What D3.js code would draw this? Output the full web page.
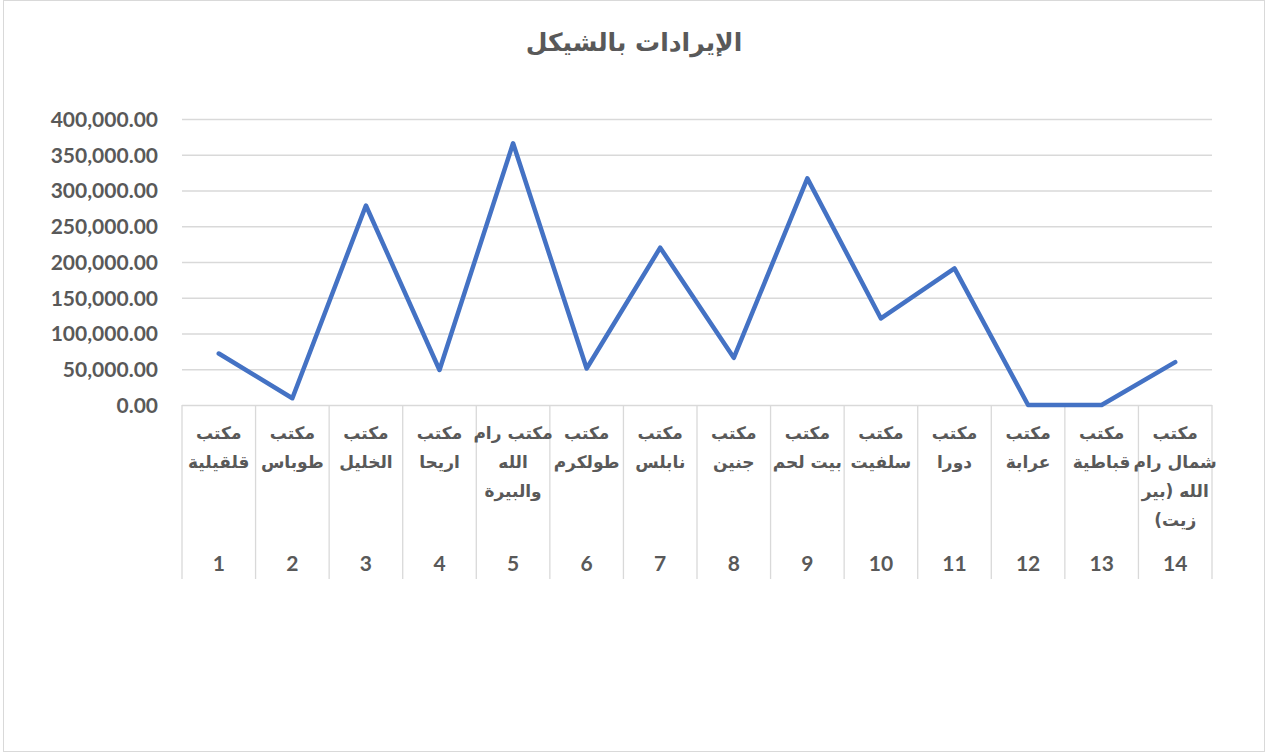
<!DOCTYPE html>
<html>
<head>
<meta charset="utf-8">
<script src="https://cdn.jsdelivr.net/npm/d3@7"></script>
<style>
  body { margin: 0; background: #fff; }
  svg { display: block; }
  .ytick text { font-family: Lato, "Open Sans", sans-serif; font-weight: bold; font-size: 21px; fill: #595959; }
  .cat text { font-family: "DejaVu Sans", Arial, sans-serif; font-weight: bold; font-size: 17px; fill: #595959; }
  .num text { font-family: Lato, "Open Sans", sans-serif; font-weight: bold; font-size: 21px; fill: #595959; }
</style>
</head>
<body>
<svg id="chart"></svg>
<script>
// chart data
const chartTitle = 'الإيرادات بالشيكل'
const officeNumbers = [1, 2, 3, 4, 5, 6, 7, 8, 9, 10, 11, 12, 13, 14]
const officeNames = [
  'مكتب\nقلقيلية',
  'مكتب\nطوباس',
  'مكتب\nالخليل',
  'مكتب\nاريحا',
  'مكتب رام\nالله\nوالبيرة',
  'مكتب\nطولكرم',
  'مكتب\nنابلس',
  'مكتب\nجنين',
  'مكتب\nبيت لحم',
  'مكتب\nسلفيت',
  'مكتب\nدورا',
  'مكتب\nعرابة',
  'مكتب\nقباطية',
  'مكتب\nشمال رام\nالله (بير\nزيت)'
]
const revenue = [72000, 9500, 279000, 49000, 366000, 51000, 220000, 66000, 317000, 121000, 191000, 0, 0, 60000]
const yTicks = [0, 50000, 100000, 150000, 200000, 250000, 300000, 350000, 400000]

const config = {
  width: 1267, height: 753,
  margin: {top: 119, right: 55, bottom: 348, left: 182}
}

const svg = d3.select('#chart')
  .attr('width', config.width)
  .attr('height', config.height)

// outer border
svg.append('rect')
  .attr('x', 3.5).attr('y', 0.5)
  .attr('width', config.width - 6).attr('height', config.height - 2)
  .attr('fill', '#fff')
  .attr('stroke', '#d9d9d9')

svg.append('text')
  .attr('x', 634).attr('y', 44)
  .attr('text-anchor', 'middle')
  .attr('dominant-baseline', 'middle')
  .attr('font-family', '"DejaVu Sans", Arial, sans-serif')
  .attr('font-weight', 'bold')
  .attr('font-size', 25)
  .attr('fill', '#595959')
  .text(chartTitle)

const plotW = config.width - config.margin.left - config.margin.right
const plotH = config.height - config.margin.top - config.margin.bottom

const chart = svg.append('g')
  .attr('transform', `translate(${config.margin.left},${config.margin.top})`)

const xScale = d3.scaleBand()
  .domain(officeNumbers)
  .range([0, plotW])
  .padding(0)

const yScale = d3.scaleLinear()
  .domain([0, 400000])
  .range([plotH, 0])

// gridlines
const grid = chart.append('g')
  .call(d3.axisLeft(yScale).tickValues(yTicks).tickSize(-plotW).tickFormat(''))
grid.select('.domain').remove()
grid.selectAll('line').attr('stroke', '#d9d9d9').attr('stroke-width', 1.3)

// y axis labels
const yAxisG = chart.append('g')
  .attr('class', 'ytick')
  .call(d3.axisLeft(yScale).tickValues(yTicks).tickSize(0).tickPadding(24).tickFormat(d3.format(',.2f')))
yAxisG.select('.domain').remove()
yAxisG.selectAll('text').attr('dy', '0.35em')

// category separators
const sepBottom = 174
chart.append('g')
  .selectAll('line')
  .data(officeNumbers.concat(['end']))
  .join('line')
    .attr('x1', d => d === 'end' ? plotW : xScale(d))
    .attr('x2', d => d === 'end' ? plotW : xScale(d))
    .attr('y1', plotH)
    .attr('y2', plotH + sepBottom)
    .attr('stroke', '#d9d9d9')
    .attr('stroke-width', 1.3)

// office name labels
const catG = chart.append('g').attr('class', 'cat')
catG.selectAll('text')
  .data(officeNumbers)
  .join('text')
    .attr('text-anchor', 'middle')
    .attr('direction', 'rtl')
    .attr('x', d => xScale(d) + xScale.bandwidth() / 2)
    .attr('y', plotH + 34)
    .each(function(d, i) {
      const lines = officeNames[i].split('\n')
      d3.select(this).selectAll('tspan')
        .data(lines)
        .join('tspan')
          .attr('x', xScale(d) + xScale.bandwidth() / 2)
          .attr('dy', (l, j) => j === 0 ? 0 : 29)
          .text(l => l)
    })

// office numbers
chart.append('g').attr('class', 'num')
  .selectAll('text')
  .data(officeNumbers)
  .join('text')
    .attr('text-anchor', 'middle')
    .attr('x', d => xScale(d) + xScale.bandwidth() / 2)
    .attr('y', plotH + 159)
    .attr('dy', '0.35em')
    .text(d => d)

// revenue line
const line = d3.line()
  .x((d, i) => xScale(officeNumbers[i]) + xScale.bandwidth() / 2)
  .y(d => yScale(d))

chart.append('path')
  .datum(revenue)
  .attr('d', line)
  .attr('fill', 'none')
  .attr('stroke', '#4472c4')
  .attr('stroke-width', 4.5)
  .attr('stroke-linejoin', 'round')
  .attr('stroke-linecap', 'round')
</script>
</body>
</html>
